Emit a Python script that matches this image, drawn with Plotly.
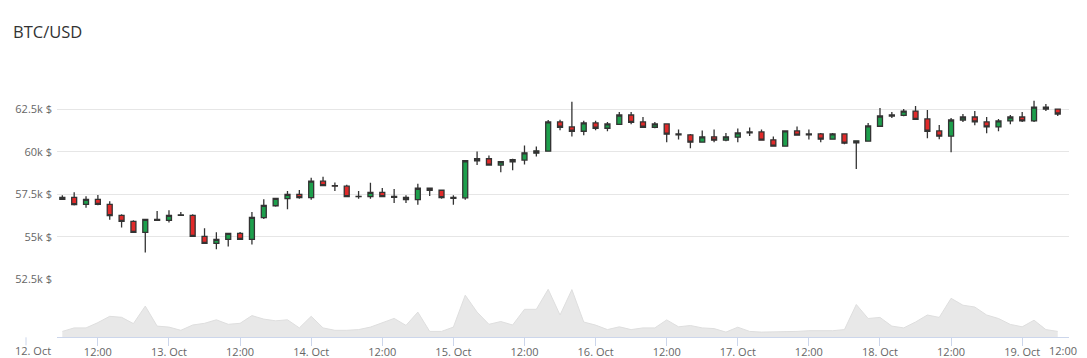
import pandas as pd
import plotly.graph_objects as go

# ---- data (2-hour candles, 12 Oct 06:00 -> 19 Oct 06:00) ----
times = pd.date_range("2021-10-12 06:00", periods=85, freq="2h")

opens = [57206, 57324, 56912, 57206, 56912, 56265, 55912, 55266, 55971, 55971,
         56265, 56265, 55030, 54619, 54854, 55207, 54854, 56131, 56825, 57242,
         57500, 57302, 58274, 58016, 57976, 57380, 57361, 57619, 57380, 57321,
         57183, 57857, 57738, 57321, 57290, 59474, 59590, 59220, 59415, 59513,
         59922, 60039, 61755, 61463, 61209, 61697, 61385, 61619, 62165, 61755,
         61443, 61638, 61053, 60995, 60566, 60878, 60683, 60858, 61112, 61170,
         60702, 60332, 61229, 61053, 61053, 60741, 61053, 60527, 60624, 61502,
         62106, 62145, 62398, 61931, 61229, 60917, 61872, 62048, 61755, 61463,
         61814, 62048, 61814, 62632, 62515]
highs = [57441, 57618, 57382, 57461, 57088, 56324, 55971, 56030, 56520, 56559,
         56461, 56324, 55501, 55266, 55207, 55285, 56461, 57202, 57262, 57698,
         57758, 58472, 58532, 58194, 58055, 57698, 58174, 57877, 57817, 57440,
         58115, 57857, 57738, 57440, 59474, 60020, 59785, 59415, 59590, 60371,
         60312, 61872, 61892, 62945, 61833, 61833, 61755, 62340, 62340, 62048,
         61755, 61638, 61307, 61053, 61248, 61307, 61112, 61365, 61424, 61307,
         60897, 61229, 61482, 61307, 61112, 61112, 61053, 60644, 61697, 62574,
         62340, 62515, 62691, 62457, 61580, 61989, 62223, 62398, 62048, 61931,
         62165, 62340, 63003, 62808, 62515]
lows = [57167, 56834, 56716, 56853, 56010, 55540, 55250, 54070, 55960, 55834,
        56246, 55030, 54619, 54266, 54423, 54854, 54540, 56052, 56766, 56627,
        57242, 57183, 58016, 57698, 57361, 57242, 57242, 57361, 56984, 56984,
        56885, 57401, 57242, 56885, 57173, 59220, 59220, 58791, 58908, 59259,
        59727, 60039, 61268, 60897, 60975, 61268, 61209, 61619, 61619, 61443,
        61385, 60566, 60722, 60215, 60566, 60566, 60624, 60566, 60936, 60683,
        60332, 60332, 60975, 60722, 60566, 60741, 60449, 58986, 60624, 61502,
        61989, 62087, 61911, 60800, 60741, 59980, 61755, 61560, 61092, 61209,
        61619, 61755, 61755, 62398, 62106]
closes = [57324, 56892, 57206, 56912, 56246, 55912, 55266, 56030, 56030, 56265,
          56290, 55030, 54619, 54854, 55207, 54854, 56148, 56845, 57262, 57500,
          57302, 58274, 58016, 57976, 57361, 57361, 57619, 57361, 57321, 57183,
          57857, 57738, 57302, 57262, 59474, 59590, 59220, 59415, 59532, 59942,
          60059, 61755, 61443, 61209, 61697, 61385, 61638, 62165, 61736, 61443,
          61638, 61034, 60995, 60566, 60878, 60683, 60878, 61112, 61170, 60683,
          60332, 61229, 60975, 60995, 60741, 61053, 60507, 60644, 61521, 62106,
          62165, 62398, 61911, 61209, 60917, 61872, 62048, 61755, 61463, 61814,
          62048, 61814, 62632, 62515, 62223]
volumes = [59, 94, 94, 147, 210, 200, 137, 312, 112, 102,
           70, 123, 140, 175, 130, 140, 217, 182, 165, 175,
           94, 210, 94, 70, 70, 77, 102, 147, 189, 119,
           252, 59, 59, 102, 421, 252, 130, 158, 123, 280,
           280, 480, 223, 477, 153, 122, 77, 105, 77, 94,
           94, 174, 105, 118, 94, 87, 52, 101, 59, 52,
           52, 59, 59, 66, 66, 66, 77, 328, 188, 199,
           112, 94, 153, 223, 199, 390, 321, 303, 223, 188,
           129, 105, 171, 77, 59]

price_ticks = [52500, 55000, 57500, 60000, 62500, 65000]
price_labels = ["52.5k $", "55k $", "57.5k $", "60k $", "62.5k $", ""]

time_ticks = pd.date_range("2021-10-12 12:00", "2021-10-19 00:00", freq="12h")
time_labels = ["12:00" if t.hour == 12 else f"{t.day}. Oct" for t in time_ticks]

# page is rendered with an 8px body margin -> figure coords = page coords - 8
OFF = 8
W, H = 1079, 350
PL, PR = 57, 1069          # plot area left/right in page px
FONT = "Open Sans"
GREEN = "#1d9f4c"
RED = "#e12a2a"
OUTLINE = "#333333"


def py(page_y):
    return 1 - (page_y - OFF) / H


def px(page_x):
    return (page_x - PL) / (PR - PL)


fig = go.Figure()
fig.add_trace(go.Candlestick(
    x=times, open=opens, high=highs, low=lows, close=closes,
    xaxis="x", yaxis="y",
    increasing=dict(fillcolor=GREEN, line=dict(color=OUTLINE, width=1.3)),
    decreasing=dict(fillcolor=RED, line=dict(color=OUTLINE, width=1.3)),
    whiskerwidth=0, showlegend=False, hoverinfo="skip",
))
fig.add_trace(go.Scatter(
    x=times, y=volumes, xaxis="x2", yaxis="y2", mode="lines",
    line=dict(color="#dedede", width=1), fill="tozeroy",
    fillcolor="#e8e8e8", showlegend=False, hoverinfo="skip",
))

x_range = ["2021-10-12 05:06", "2021-10-19 07:54"]
fig.update_layout(
    width=W, height=H,
    margin=dict(l=PL - OFF, r=W - (PR - OFF), t=0, b=0, autoexpand=False),
    paper_bgcolor="white", plot_bgcolor="white",
    font=dict(family=FONT, color="#666666", size=11),
    boxgap=0.4,
    title=dict(text="BTC/USD", x=(13 - OFF) / W, xref="container", xanchor="left",
               y=py(32), yref="container", yanchor="middle",
               font=dict(family=FONT, size=16.5, color="#333333")),
    xaxis=dict(domain=[0, 1], anchor="y", range=x_range, showticklabels=False,
               showgrid=False, zeroline=False, rangeslider=dict(visible=False),
               showline=False, ticks=""),
    yaxis=dict(domain=[py(279.3), py(66.8)], range=[52500, 65000],
               tickvals=price_ticks, ticktext=price_labels,
               showgrid=True, gridcolor="#e6e6e6", gridwidth=1,
               zeroline=False, showline=False, ticks="",
               ticklabelstandoff=4,
               tickfont=dict(size=11, color="#666666")),
    xaxis2=dict(domain=[0, 1], anchor="y2", matches="x", range=x_range,
                tickvals=time_ticks, ticktext=time_labels,
                showgrid=False, zeroline=False, showline=True,
                linecolor="#ccd6eb", linewidth=1,
                ticks="outside", ticklen=8, tickcolor="#ccd6eb",
                ticklabelstandoff=-4,
                tickfont=dict(size=11, color="#666666")),
    yaxis2=dict(domain=[py(337.3), py(280)], range=[0, 573],
                showticklabels=False, showgrid=False, zeroline=False,
                showline=False, ticks=""),
)

# labels that the original axis justified inside the frame
fig.add_annotation(text="12. Oct", xref="paper", yref="paper",
                   x=px(33), y=py(350.5), xanchor="center", yanchor="middle",
                   borderpad=0, showarrow=False,
                   font=dict(size=11, color="#666666"))
fig.add_annotation(text="12:00", xref="paper", yref="paper",
                   x=px(1063), y=py(350.5), xanchor="center", yanchor="middle",
                   borderpad=0, showarrow=False,
                   font=dict(size=11, color="#666666"))
fig.add_shape(type="line", xref="paper", yref="paper",
              x0=px(26), x1=px(26), y0=py(337.3), y1=py(345.3),
              line=dict(color="#ccd6eb", width=1))

fig.write_html("out.html")
